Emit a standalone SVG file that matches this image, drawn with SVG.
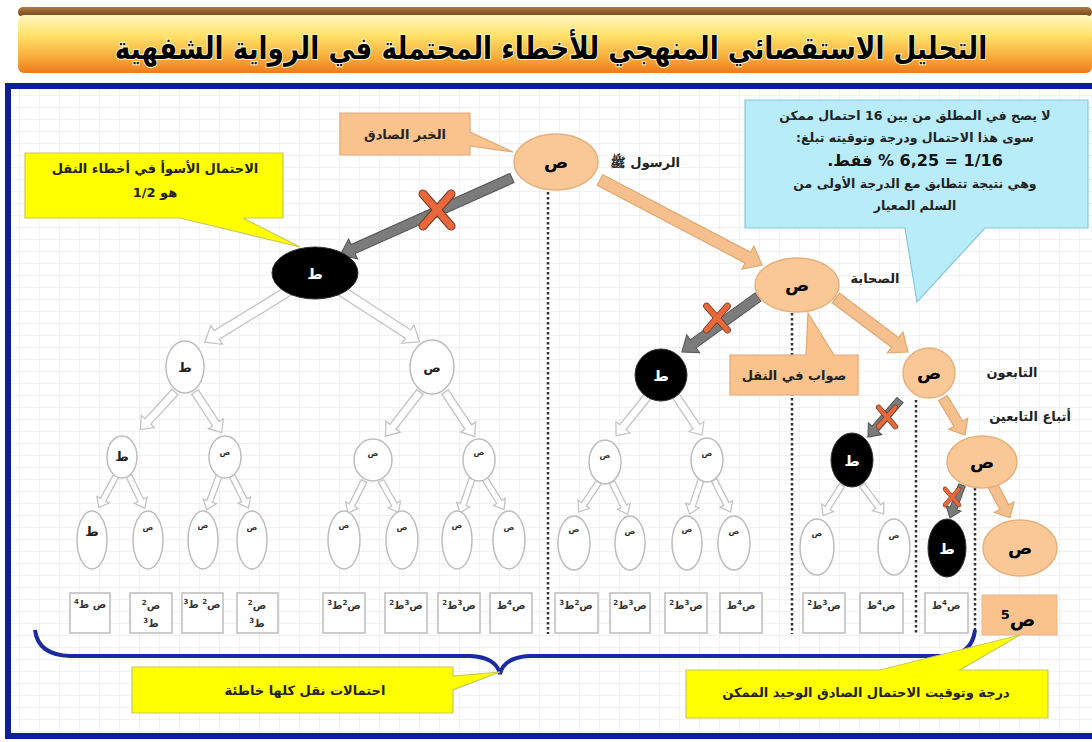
<svg xmlns="http://www.w3.org/2000/svg" xmlns:xlink="http://www.w3.org/1999/xlink" width="1092" height="742" viewBox="0 0 1092 742">
<style>
text{font-family:"DejaVu Sans","Noto Sans",sans-serif;}
.title{font-size:31px;font-weight:bold;fill:#000;}
.lbl{font-size:13px;font-weight:bold;fill:#222;}
.cl{font-size:12.5px;font-weight:bold;fill:#222;}
.orn{fill:#FAC896;stroke:#E6B07C;stroke-width:1.5;}
.blk{fill:#000;stroke:#333;stroke-width:1;}
.wht{fill:#fff;stroke:#bdbdbd;stroke-width:1.5;}
.ntx{font-size:18px;font-weight:bold;fill:#000;text-anchor:middle;}
.ntw{font-size:15px;font-weight:bold;fill:#fff;text-anchor:middle;}
.tiny{font-size:8px;font-weight:bold;fill:#333;text-anchor:middle;}
.small{font-size:13px;font-weight:bold;fill:#222;text-anchor:middle;}
.aw{fill:#fff;stroke:#c4c4c4;stroke-width:1.3;}
.ao{fill:#F6C08E;stroke:#E0A870;stroke-width:1.2;}
.ag{fill:#7b7b7b;stroke:#555;stroke-width:1;}
.box{fill:#fff;stroke:#bcbcbc;stroke-width:1.5;}
.btx{font-size:10px;font-weight:bold;fill:#333;text-anchor:middle;}
.dot{stroke:#333;stroke-width:2.5;stroke-dasharray:2.5 2.5;fill:none;}
.xr{stroke:#E8683C;stroke-width:7;stroke-linecap:round;}
.xd{stroke:#6a3a2a;stroke-width:9;stroke-linecap:round;}
</style>
<defs>
<linearGradient id="band" x1="0" y1="0" x2="0" y2="1">
<stop offset="0" stop-color="#FFF8C0"/>
<stop offset="0.35" stop-color="#FFE26A"/>
<stop offset="0.75" stop-color="#F9A838"/>
<stop offset="1" stop-color="#EC7A1C"/>
</linearGradient>
<linearGradient id="brown" x1="0" y1="0" x2="0" y2="1">
<stop offset="0" stop-color="#B07A40"/>
<stop offset="1" stop-color="#6E4418"/>
</linearGradient>
<pattern id="grid" width="20" height="12" patternUnits="userSpaceOnUse">
<path d="M20,0 V12 M0,12 H20" stroke="#dedede" stroke-width="0.8" fill="none"/>
</pattern>
<path id="aB1" d="M0,-5 L86,-5 L86,-11 L100,0 L86,11 L86,5 L0,5 Z"/>
<path id="aB2" d="M0,-5 L81,-5 L81,-11 L95,0 L81,11 L81,5 L0,5 Z"/>
<path id="aM" d="M0,-4 L40,-4 L40,-9 L51,0 L40,9 L40,4 L0,4 Z"/>
<path id="aS" d="M0,-3 L27,-3 L27,-7 L36,0 L27,7 L27,3 L0,3 Z"/>
</defs>

<rect width="1092" height="742" fill="#fff"/>
<rect x="11" y="89" width="1081" height="644" fill="url(#grid)"/>

<g id="title">
<rect x="18" y="7" width="1074" height="10" rx="5" fill="url(#brown)"/>
<rect x="18" y="15" width="1074" height="58" rx="6" fill="url(#band)"/>
<text class="title" x="0" y="0" text-anchor="middle" direction="rtl" transform="translate(551,59) scale(0.85,1)" stroke="#fff8d0" stroke-width="2" paint-order="stroke">التحليل الاستقصائي المنهجي للأخطاء المحتملة في الرواية الشفهية</text>
</g>

<g id="frame">
<rect x="5" y="83" width="1087" height="6" fill="#0B1F98"/>
<rect x="5" y="83" width="6" height="656" fill="#0B1F98"/>
<rect x="5" y="733" width="1087" height="6" fill="#0B1F98"/>
</g>

<g id="connectors">
<line class="dot" x1="548" y1="192" x2="548" y2="634"/>
<line class="dot" x1="792" y1="313" x2="792" y2="634"/>
<line class="dot" x1="916" y1="400" x2="916" y2="634"/>
<line class="dot" x1="975" y1="488" x2="975" y2="634"/>
<!-- white arrows -->
<use href="#aB1" class="aw" transform="translate(290,290) rotate(148.5)"/>
<use href="#aB2" class="aw" transform="translate(340,290) rotate(33)"/>
<use href="#aM" class="aw" transform="translate(175,392) rotate(132.6)"/>
<use href="#aM" class="aw" transform="translate(195,392) rotate(56.6) scale(0.95,1)"/>
<use href="#aM" class="aw" transform="translate(420,392) rotate(127.9) scale(1.1,1)"/>
<use href="#aM" class="aw" transform="translate(445,392) rotate(56.3) scale(1.05,1)"/>
<use href="#aM" class="aw" transform="translate(648,396) rotate(128.8)"/>
<use href="#aM" class="aw" transform="translate(676,396) rotate(56.3) scale(0.92,1)"/>
<use href="#aS" class="aw" transform="translate(116,476) rotate(118.6)"/>
<use href="#aS" class="aw" transform="translate(129,476) rotate(64.1)"/>
<use href="#aS" class="aw" transform="translate(219,476) rotate(110)"/>
<use href="#aS" class="aw" transform="translate(232,476) rotate(62.7)"/>
<use href="#aS" class="aw" transform="translate(364,481) rotate(116.6)"/>
<use href="#aS" class="aw" transform="translate(381,481) rotate(60.5)"/>
<use href="#aS" class="aw" transform="translate(472,479) rotate(109)"/>
<use href="#aS" class="aw" transform="translate(485,479) rotate(58)"/>
<use href="#aS" class="aw" transform="translate(599,482) rotate(124.1)"/>
<use href="#aS" class="aw" transform="translate(612,482) rotate(64.2)"/>
<use href="#aS" class="aw" transform="translate(701,480) rotate(108.4)"/>
<use href="#aS" class="aw" transform="translate(714,480) rotate(62.7)"/>
<use href="#aS" class="aw" transform="translate(842,485) rotate(122)"/>
<use href="#aS" class="aw" transform="translate(862,485) rotate(53.1)"/>
<!-- orange arrows -->
<path class="ao" d="M0,-6 L167,-6 L167,-13 L183,0 L167,13 L167,6 L0,6 Z" transform="translate(600,180) rotate(27.7)"/>
<path class="ao" d="M0,-6 L74,-6 L74,-13 L90,0 L74,13 L74,6 L0,6 Z" transform="translate(836,298) rotate(36.9)"/>
<path class="ao" d="M0,-5 L30,-5 L30,-11 L43,0 L30,11 L30,5 L0,5 Z" transform="translate(943,398) rotate(59.3)"/>
<path class="ao" d="M0,-5 L24,-5 L24,-11 L36,0 L24,11 L24,5 L0,5 Z" transform="translate(993,486) rotate(62)"/>
<!-- grey rejected arrows -->
<path class="ag" d="M0,-5 L174,-5 L174,-11 L188,0 L174,11 L174,5 L0,5 Z" transform="translate(512,178) rotate(155.9)"/>
<path class="ag" d="M0,-5 L80,-5 L80,-11 L94,0 L80,11 L80,5 L0,5 Z" transform="translate(758,297) rotate(144.1)"/>
<path class="ag" d="M0,-4 L38,-4 L38,-9 L49,0 L38,9 L38,4 L0,4 Z" transform="translate(900,400) rotate(130.9)"/>
<path class="ag" d="M0,-3.5 L25,-3.5 L25,-8 L35,0 L25,8 L25,3.5 L0,3.5 Z" transform="translate(962,485) rotate(110)"/>
<!-- red crosses -->
<g transform="translate(437,210)">
<line class="xd" x1="-14" y1="-16" x2="14" y2="16"/><line class="xd" x1="14" y1="-16" x2="-14" y2="16"/>
<line class="xr" x1="-14" y1="-16" x2="14" y2="16"/><line class="xr" x1="14" y1="-16" x2="-14" y2="16"/>
</g>
<g transform="translate(717,318) scale(0.75)">
<line class="xd" x1="-14" y1="-16" x2="14" y2="16"/><line class="xd" x1="14" y1="-16" x2="-14" y2="16"/>
<line class="xr" x1="-14" y1="-16" x2="14" y2="16"/><line class="xr" x1="14" y1="-16" x2="-14" y2="16"/>
</g>
<g transform="translate(887,417) scale(0.6)">
<line class="xd" x1="-14" y1="-16" x2="14" y2="16"/><line class="xd" x1="14" y1="-16" x2="-14" y2="16"/>
<line class="xr" x1="-14" y1="-16" x2="14" y2="16"/><line class="xr" x1="14" y1="-16" x2="-14" y2="16"/>
</g>
<g transform="translate(952,497) scale(0.5)">
<line class="xd" x1="-14" y1="-16" x2="14" y2="16"/><line class="xd" x1="14" y1="-16" x2="-14" y2="16"/>
<line class="xr" x1="-14" y1="-16" x2="14" y2="16"/><line class="xr" x1="14" y1="-16" x2="-14" y2="16"/>
</g>
<!-- brace -->
<path d="M35,630 Q38,655 70,656 L470,656 Q496,657 500,674 Q504,657 530,656 L945,656 Q972,655 975,630" fill="none" stroke="#1A2AA0" stroke-width="4"/>
</g>

<g id="callout-khabar">
<path d="M340,113 H470 V132 L513,152 L470,146 V155 H340 Z" fill="#FAC38E" stroke="#E0A878" stroke-width="1.2"/>
<text class="lbl" x="405" y="139" text-anchor="middle" direction="rtl">الخبر الصادق</text>
</g>
<g id="callout-worst">
<path d="M25,153 H283 V218 H243 L300,247 L180,218 H25 Z" fill="#FFFF00" stroke="#C8C860" stroke-width="1.2"/>
<text class="lbl" x="155" y="173" text-anchor="middle" direction="rtl">الاحتمال الأسوأ في أخطاء النقل</text>
<text class="lbl" x="155" y="197" text-anchor="middle" direction="rtl">هو 1/2</text>
</g>
<g id="callout-info">
<path d="M745,100 H1088 V228 H985 L917,302 L905,228 H745 Z" fill="#B8ECF8" stroke="#86C8D8" stroke-width="1.2"/>
<text class="cl" x="915" y="120" text-anchor="middle" direction="rtl">لا يصح في المطلق من بين 16 احتمال ممكن</text>
<text class="cl" x="915" y="142" text-anchor="middle" direction="rtl">سوى هذا الاحتمال ودرجة وتوقيته تبلغ:</text>
<text x="915" y="166" text-anchor="middle" direction="rtl" style="font-size:16px;font-weight:bold;fill:#111">1/16 = 6,25 % فقط.</text>
<text class="cl" x="915" y="188" text-anchor="middle" direction="rtl">وهي نتيجة تتطابق مع الدرجة الأولى من</text>
<text class="cl" x="915" y="210" text-anchor="middle" direction="rtl">السلم المعيار</text>
</g>
<g id="callout-sawab">
<path d="M730,355 H806 L808,313 L834,355 H858 V395 H730 Z" fill="#FAC38E" stroke="#E0A878" stroke-width="1.2"/>
<text class="lbl" x="794" y="380" text-anchor="middle" direction="rtl">صواب في النقل</text>
</g>

<g id="n-root">
<ellipse class="orn" cx="556" cy="162" rx="42" ry="28"/>
<text class="ntx" x="556" y="168">ص</text>
<text class="lbl" x="680" y="167" text-anchor="start" direction="rtl">الرسول ﷺ</text>
</g>
<g id="n-sahaba">
<ellipse class="orn" cx="797" cy="285" rx="42" ry="27"/>
<text class="ntx" x="797" y="291">ص</text>
<text class="lbl" x="875" y="283" text-anchor="middle" direction="rtl">الصحابة</text>
</g>
<g id="n-tabiun">
<ellipse class="orn" cx="929" cy="373" rx="26" ry="25"/>
<text class="ntx" x="929" y="379">ص</text>
<text class="lbl" x="1012" y="377" text-anchor="middle" direction="rtl">التابعون</text>
<text class="lbl" x="1030" y="421" text-anchor="middle" direction="rtl">أتباع التابعين</text>
</g>
<g id="n-atba">
<ellipse class="orn" cx="982" cy="462" rx="35" ry="26"/>
<text class="ntx" x="982" y="468">ص</text>
</g>
<g id="n-final">
<ellipse class="orn" cx="1020" cy="548" rx="37" ry="28"/>
<text class="ntx" x="1020" y="554">ص</text>
</g>
<g id="n-t1">
<ellipse class="blk" cx="315" cy="273" rx="43" ry="26"/>
<text class="ntw" x="315" y="279">ط</text>
</g>
<g id="n-t2">
<ellipse class="blk" cx="661" cy="375" rx="26" ry="26"/>
<text class="ntw" x="661" y="381">ط</text>
</g>
<g id="n-t3">
<ellipse class="blk" cx="852" cy="460" rx="21" ry="27"/>
<text class="ntw" x="852" y="466">ط</text>
</g>
<g id="n-t4">
<ellipse class="blk" cx="947" cy="548" rx="19" ry="29"/>
<text class="ntw" x="947" y="554">ط</text>
</g>

<g id="tree-left">
<ellipse class="wht" cx="185" cy="367" rx="19" ry="26"/><text class="small" x="185" y="372">ط</text>
<ellipse class="wht" cx="432" cy="367" rx="22" ry="27"/><text class="small" x="432" y="372">ص</text>
<ellipse class="wht" cx="122" cy="457" rx="15" ry="21"/><text class="small" x="122" y="461">ط</text>
<ellipse class="wht" cx="225" cy="457" rx="16" ry="21"/><text class="tiny" x="225" y="455">ص</text>
<ellipse class="wht" cx="373" cy="460" rx="19" ry="21"/><text class="tiny" x="373" y="456">ص</text>
<ellipse class="wht" cx="479" cy="460" rx="16" ry="21"/><text class="tiny" x="479" y="455">ص</text>
<ellipse class="wht" cx="92" cy="540" rx="15" ry="29"/><text class="small" x="92" y="536">ط</text>
<ellipse class="wht" cx="148" cy="540" rx="15" ry="29"/><text class="tiny" x="148" y="530">ص</text>
<ellipse class="wht" cx="203" cy="540" rx="15" ry="29"/><text class="tiny" x="203" y="528">ص</text>
<ellipse class="wht" cx="252" cy="540" rx="15" ry="29"/><text class="tiny" x="252" y="530">ص</text>
<ellipse class="wht" cx="344" cy="540" rx="16" ry="29"/><text class="tiny" x="344" y="528">ص</text>
<ellipse class="wht" cx="402" cy="540" rx="16" ry="29"/><text class="tiny" x="402" y="530">ص</text>
<ellipse class="wht" cx="457" cy="540" rx="15" ry="29"/><text class="tiny" x="457" y="528">ص</text>
<ellipse class="wht" cx="509" cy="540" rx="16" ry="29"/><text class="tiny" x="509" y="530">ص</text>
</g>
<g id="tree-mid">
<ellipse class="wht" cx="605" cy="462" rx="16" ry="22"/><text class="tiny" x="605" y="458">ص</text>
<ellipse class="wht" cx="707" cy="460" rx="16" ry="22"/><text class="tiny" x="707" y="456">ص</text>
<ellipse class="wht" cx="574" cy="543" rx="16" ry="27"/><text class="tiny" x="574" y="532">ص</text>
<ellipse class="wht" cx="630" cy="543" rx="15" ry="27"/><text class="tiny" x="630" y="534">ص</text>
<ellipse class="wht" cx="687" cy="543" rx="15" ry="27"/><text class="tiny" x="687" y="532">ص</text>
<ellipse class="wht" cx="734" cy="543" rx="16" ry="27"/><text class="tiny" x="734" y="534">ص</text>
</g>
<g id="tree-third">
<ellipse class="wht" cx="817" cy="547" rx="17" ry="28"/><text class="tiny" x="817" y="536">ص</text>
<ellipse class="wht" cx="894" cy="547" rx="16" ry="28"/><text class="tiny" x="894" y="538">ص</text>
</g>

<g id="leaf-boxes">
<rect class="box" x="70" y="593" width="40" height="40"/><text class="btx" x="90" y="608" direction="rtl">ص ط<tspan baseline-shift="super" font-size="7">4</tspan></text>
<rect class="box" x="130" y="593" width="42" height="40"/><text class="btx" x="151" y="609" direction="rtl">ص<tspan baseline-shift="super" font-size="7">2</tspan></text><text class="btx" x="151" y="627" direction="rtl">ط<tspan baseline-shift="super" font-size="7">3</tspan></text>
<rect class="box" x="182" y="593" width="41" height="40"/><text class="btx" x="202" y="608" direction="rtl">ص<tspan baseline-shift="super" font-size="7">2</tspan> ط<tspan baseline-shift="super" font-size="7">3</tspan></text>
<rect class="box" x="237" y="593" width="41" height="40"/><text class="btx" x="257" y="609" direction="rtl">ص<tspan baseline-shift="super" font-size="7">2</tspan></text><text class="btx" x="257" y="627" direction="rtl">ط<tspan baseline-shift="super" font-size="7">3</tspan></text>
<rect class="box" x="323" y="593" width="42" height="40"/><text class="btx" x="344" y="609" direction="rtl">ص<tspan baseline-shift="super" font-size="7">2</tspan>ط<tspan baseline-shift="super" font-size="7">3</tspan></text>
<rect class="box" x="385" y="593" width="42" height="40"/><text class="btx" x="406" y="609" direction="rtl">ص<tspan baseline-shift="super" font-size="7">3</tspan>ط<tspan baseline-shift="super" font-size="7">2</tspan></text>
<rect class="box" x="438" y="593" width="42" height="40"/><text class="btx" x="459" y="609" direction="rtl">ص<tspan baseline-shift="super" font-size="7">3</tspan>ط<tspan baseline-shift="super" font-size="7">2</tspan></text>
<rect class="box" x="490" y="593" width="42" height="40"/><text class="btx" x="511" y="609" direction="rtl">ص<tspan baseline-shift="super" font-size="7">4</tspan>ط</text>
<rect class="box" x="555" y="593" width="43" height="40"/><text class="btx" x="576" y="609" direction="rtl">ص<tspan baseline-shift="super" font-size="7">2</tspan>ط<tspan baseline-shift="super" font-size="7">3</tspan></text>
<rect class="box" x="610" y="593" width="40" height="40"/><text class="btx" x="630" y="609" direction="rtl">ص<tspan baseline-shift="super" font-size="7">3</tspan>ط<tspan baseline-shift="super" font-size="7">2</tspan></text>
<rect class="box" x="665" y="593" width="42" height="40"/><text class="btx" x="686" y="609" direction="rtl">ص<tspan baseline-shift="super" font-size="7">3</tspan>ط<tspan baseline-shift="super" font-size="7">2</tspan></text>
<rect class="box" x="720" y="593" width="42" height="40"/><text class="btx" x="741" y="609" direction="rtl">ص<tspan baseline-shift="super" font-size="7">4</tspan>ط</text>
<rect class="box" x="803" y="593" width="42" height="40"/><text class="btx" x="824" y="609" direction="rtl">ص<tspan baseline-shift="super" font-size="7">3</tspan>ط<tspan baseline-shift="super" font-size="7">2</tspan></text>
<rect class="box" x="860" y="593" width="43" height="40"/><text class="btx" x="881" y="609" direction="rtl">ص<tspan baseline-shift="super" font-size="7">4</tspan>ط</text>
<rect class="box" x="925" y="593" width="43" height="40"/><text class="btx" x="946" y="609" direction="rtl">ص<tspan baseline-shift="super" font-size="7">4</tspan>ط</text>
</g>
<g id="box-s5">
<rect x="982" y="595" width="75" height="40" fill="#FAC38E" stroke="#E6B88C" stroke-width="1"/>
<text x="1018" y="626" text-anchor="middle" direction="rtl" style="font-size:19px;font-weight:bold;fill:#000">ص<tspan baseline-shift="super" font-size="13">5</tspan></text>
</g>

<g id="callout-wrong">
<path d="M132,667 H453 V676 L500,672 L453,690 V713 H132 Z" fill="#FFFF00" stroke="#C8C860" stroke-width="1.2"/>
<text class="lbl" x="305" y="695" text-anchor="middle" direction="rtl">احتمالات نقل كلها  خاطئة</text>
</g>
<g id="callout-right">
<path d="M686,670 H880 L1020,635 L960,670 H1048 V718 H686 Z" fill="#FFFF00" stroke="#C8C860" stroke-width="1.2"/>
<text class="lbl" x="866" y="697" text-anchor="middle" direction="rtl">درجة وتوقيت الاحتمال الصادق الوحيد الممكن</text>
</g>
</svg>
